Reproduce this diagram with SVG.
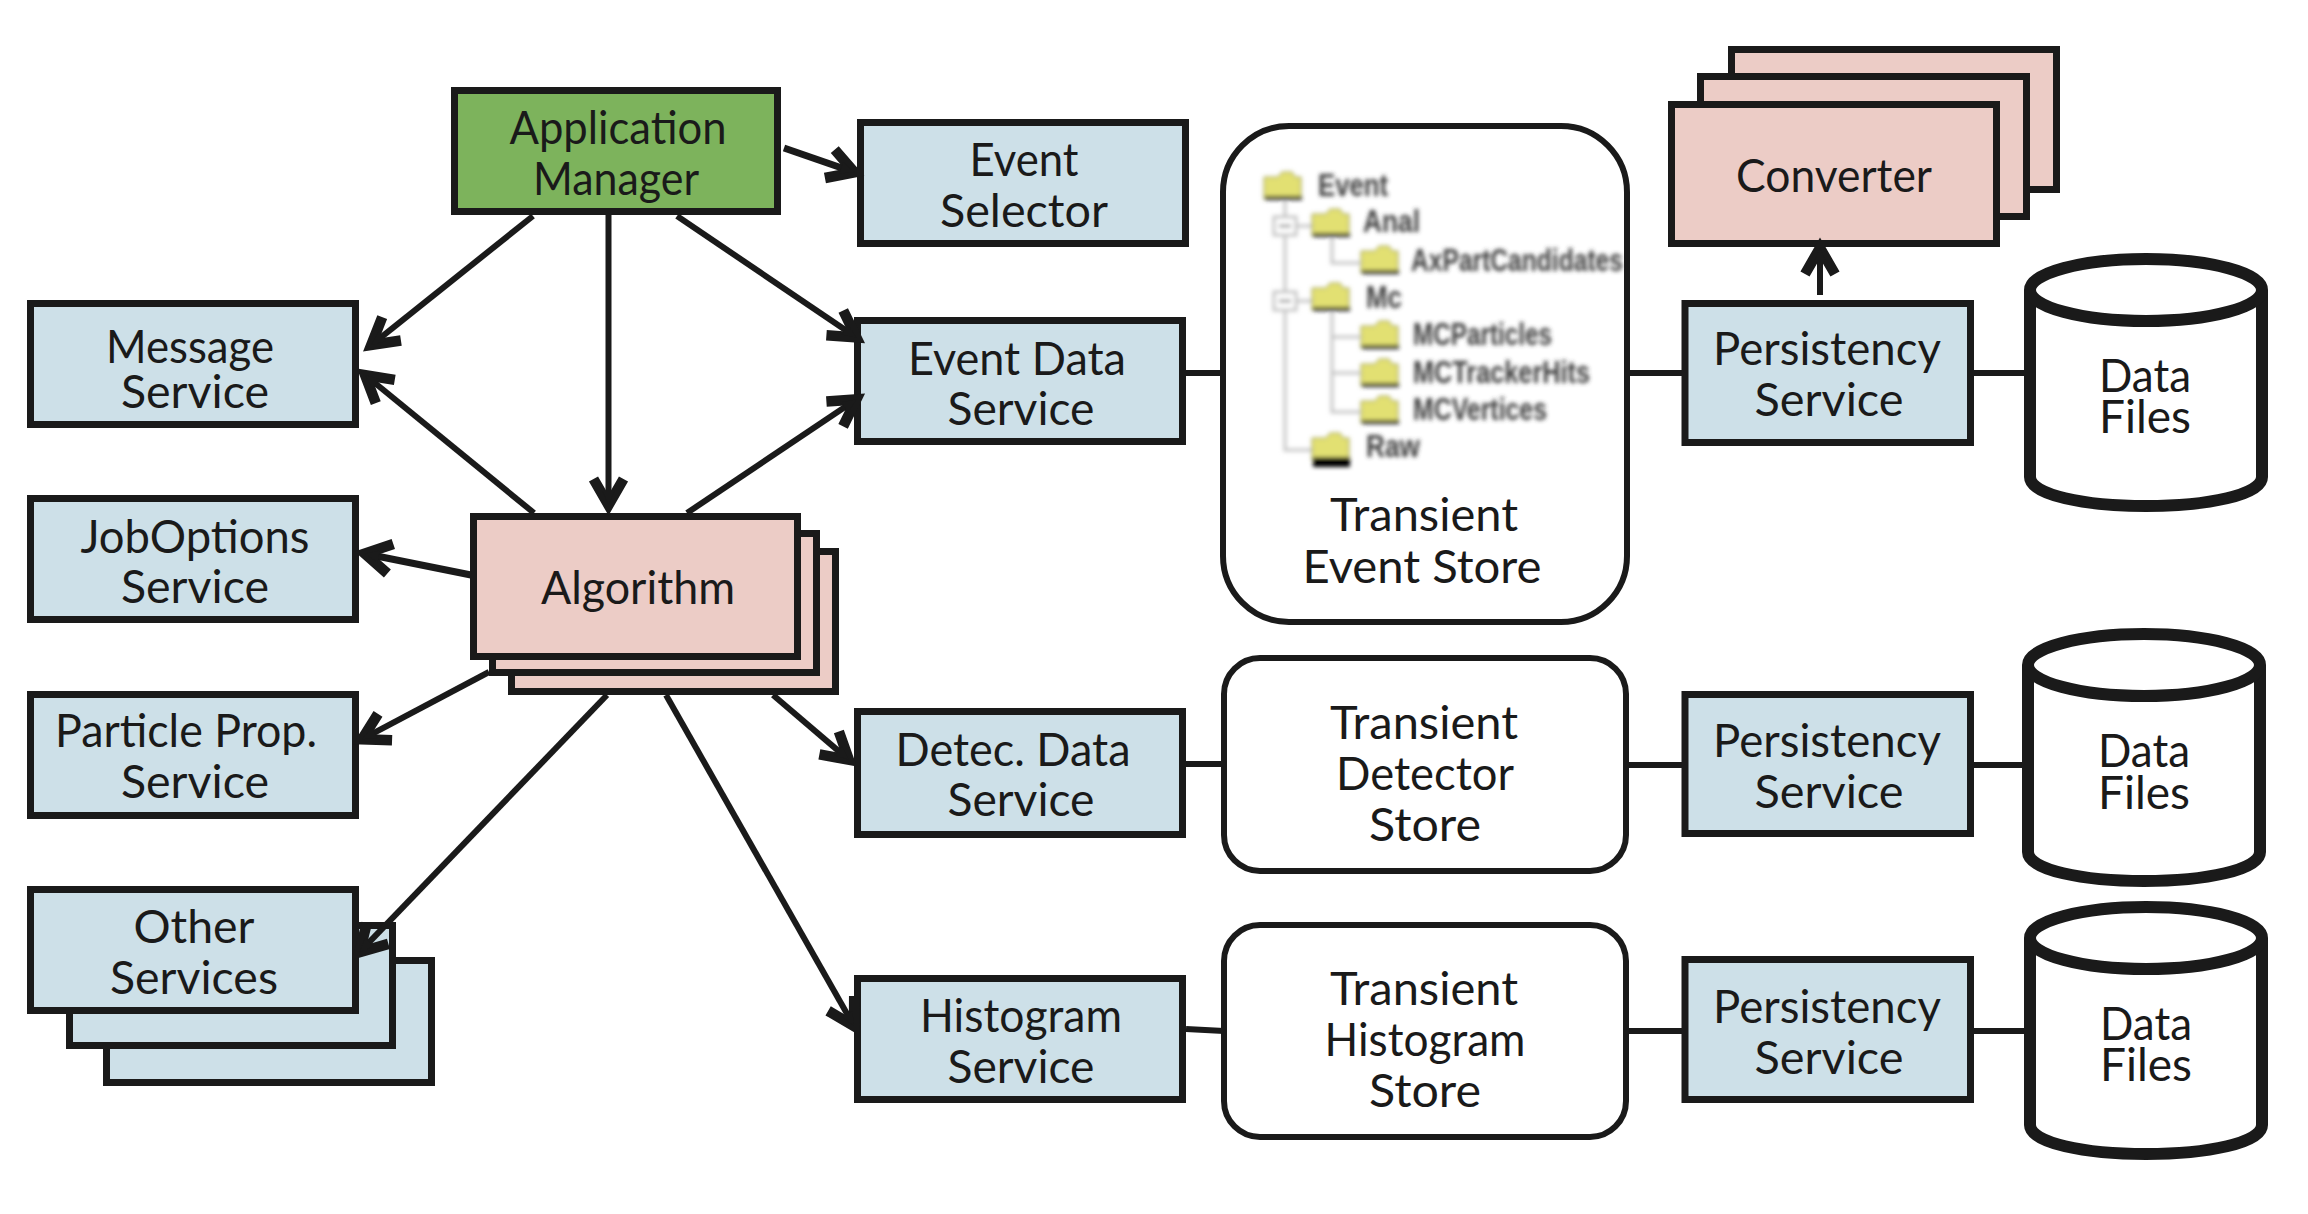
<svg xmlns="http://www.w3.org/2000/svg" width="2308" height="1214" viewBox="0 0 2308 1214">
<defs>
<style>
.b{stroke:#1a1a1a;stroke-width:7;fill:#cde0e8}
.p{stroke:#1a1a1a;stroke-width:7;fill:#ecccc6}
.g{stroke:#1a1a1a;stroke-width:7;fill:#7db35c}
.s{stroke:#1a1a1a;stroke-width:6;fill:#fff}
text.t{font-family:"Lato","Open Sans",sans-serif;font-size:46px;fill:#1a1a1a;text-anchor:middle;transform:translateY(2px)}
.c line{stroke:#1a1a1a;stroke-width:6;fill:none}
.a line{marker-end:url(#h)}
.tree{filter:url(#bl)}
.tree text{font-family:"Liberation Sans",sans-serif;font-size:31px;fill:#3c3c3c;font-weight:bold}
.tl{stroke:#c4c4c4;stroke-width:3;fill:none}
.fd{fill:#e2e072;stroke:#8a8a50;stroke-width:1}
.fb{fill:#222}
</style>
<filter id="bl" x="-5%" y="-5%" width="110%" height="110%"><feGaussianBlur stdDeviation="2.2"/></filter>
<marker id="h" markerUnits="userSpaceOnUse" viewBox="-40 -30 60 60" markerWidth="60" markerHeight="60" refX="2" refY="0" orient="auto" overflow="visible">
<path d="M-26,-15 L0,0 L-26,15" fill="none" stroke="#1a1a1a" stroke-width="10.5" stroke-miterlimit="6"/>
<path d="M-14,-6 L0,0 L-14,6Z" fill="#1a1a1a"/>
</marker>
<g id="cyl">
<path d="M6,37 V224 C6,242 61,253 122,253 C183,253 238,242 238,224 V37" fill="#fff" stroke="#1a1a1a" stroke-width="12"/>
<ellipse cx="122" cy="37" rx="116" ry="31" fill="#fff" stroke="#1a1a1a" stroke-width="12"/>
</g>
<g id="folder">
<path class="fd" d="M0,6 h14 l4,-5 h10 l3,5 h6 v22 h-37z"/>
<rect class="fb" x="1" y="25" width="37" height="4"/>
</g>
</defs>
<rect width="2308" height="1214" fill="#fff"/>

<g id="event-selector"><rect class="b" x="860.500" y="122.500" width="325" height="121"/>
<text class="t" x="1024" y="174" textLength="109" lengthAdjust="spacingAndGlyphs">Event</text>
<text class="t" x="1024" y="225" textLength="168" lengthAdjust="spacingAndGlyphs">Selector</text></g>

<g id="application-manager"><rect class="g" x="454.500" y="90.500" width="323" height="121"/>
<text class="t" x="618" y="142" textLength="217" lengthAdjust="spacingAndGlyphs">Application</text>
<text class="t" x="616" y="193" textLength="166" lengthAdjust="spacingAndGlyphs">Manager</text></g>

<g id="message-service"><rect class="b" x="30.500" y="303.500" width="325" height="121"/>
<text class="t" x="190" y="361" textLength="168" lengthAdjust="spacingAndGlyphs">Message</text>
<text class="t" x="195" y="406" textLength="148" lengthAdjust="spacingAndGlyphs">Service</text></g>

<g id="joboptions-service"><rect class="b" x="30.500" y="498.500" width="325" height="121"/>
<text class="t" x="195" y="551" textLength="229" lengthAdjust="spacingAndGlyphs">JobOptions</text>
<text class="t" x="195" y="601" textLength="148" lengthAdjust="spacingAndGlyphs">Service</text></g>

<g id="particle-prop-service"><rect class="b" x="30.500" y="694.500" width="325" height="121"/>
<text class="t" x="186" y="745" textLength="262" lengthAdjust="spacingAndGlyphs">Particle Prop.</text>
<text class="t" x="195" y="796" textLength="148" lengthAdjust="spacingAndGlyphs">Service</text></g>

<g id="other-services">
<rect class="b" x="106.500" y="960.500" width="325" height="122"/>
<rect class="b" x="69.500" y="925.500" width="323" height="120"/>
<rect class="b" x="30.500" y="889.500" width="325" height="121"/>
<text class="t" x="194" y="941" textLength="121" lengthAdjust="spacingAndGlyphs">Other</text>
<text class="t" x="194" y="992" textLength="168" lengthAdjust="spacingAndGlyphs">Services</text></g>

<g id="algorithm">
<rect class="p" x="511.500" y="551.500" width="324" height="140"/>
<rect class="p" x="492.500" y="533.500" width="324" height="139"/>
<rect class="p" x="473.500" y="516.500" width="324" height="140"/>
<text class="t" x="638" y="602" textLength="194" lengthAdjust="spacingAndGlyphs">Algorithm</text></g>

<g id="event-data-service"><rect class="b" x="857.500" y="320.500" width="325" height="121"/>
<text class="t" x="1017" y="373" textLength="218" lengthAdjust="spacingAndGlyphs">Event Data</text>
<text class="t" x="1021" y="423" textLength="147" lengthAdjust="spacingAndGlyphs">Service</text></g>

<g id="detec-data-service"><rect class="b" x="857.500" y="711.500" width="325" height="123"/>
<text class="t" x="1013" y="764" textLength="235" lengthAdjust="spacingAndGlyphs">Detec. Data</text>
<text class="t" x="1021" y="814" textLength="147" lengthAdjust="spacingAndGlyphs">Service</text></g>

<g id="histogram-service"><rect class="b" x="857.500" y="978.500" width="325" height="121"/>
<text class="t" x="1021" y="1030" textLength="202" lengthAdjust="spacingAndGlyphs">Histogram</text>
<text class="t" x="1021" y="1081" textLength="147" lengthAdjust="spacingAndGlyphs">Service</text></g>

<g id="transient-event-store"><rect class="s" x="1223" y="126" width="404" height="496" rx="66" ry="66"/>
<g class="tree">
<path class="tl" d="M1285,200V450H1313M1297,226H1312M1297,301H1312M1332,237V263H1360M1332,310V412H1360M1332,337H1360M1332,373H1360"/>
<rect x="1274" y="217" width="22" height="18" fill="#fff" stroke="#c4c4c4" stroke-width="3"/>
<rect x="1274" y="292" width="22" height="18" fill="#fff" stroke="#c4c4c4" stroke-width="3"/>
<path d="M1279,226h12M1279,301h12" stroke="#999" stroke-width="3"/>
<use href="#folder" x="1264" y="171"/>
<use href="#folder" x="1312" y="208"/>
<use href="#folder" x="1361" y="245"/>
<use href="#folder" x="1312" y="282"/>
<use href="#folder" x="1361" y="320"/>
<use href="#folder" x="1361" y="358"/>
<use href="#folder" x="1361" y="395"/>
<use href="#folder" x="1312" y="432"/>
<rect x="1313" y="459" width="37" height="8" fill="#000"/>
<text x="1318" y="196" textLength="70" lengthAdjust="spacingAndGlyphs">Event</text>
<text x="1363" y="232" textLength="57" lengthAdjust="spacingAndGlyphs">Anal</text>
<text x="1411" y="271" textLength="212" lengthAdjust="spacingAndGlyphs">AxPartCandidates</text>
<text x="1366" y="308" textLength="36" lengthAdjust="spacingAndGlyphs">Mc</text>
<text x="1413" y="345" textLength="139" lengthAdjust="spacingAndGlyphs">MCParticles</text>
<text x="1413" y="383" textLength="177" lengthAdjust="spacingAndGlyphs">MCTrackerHits</text>
<text x="1413" y="420" textLength="134" lengthAdjust="spacingAndGlyphs">MCVertices</text>
<text x="1366" y="457" textLength="54" lengthAdjust="spacingAndGlyphs">Raw</text>
</g>
<text class="t" x="1424" y="529" textLength="188" lengthAdjust="spacingAndGlyphs">Transient</text>
<text class="t" x="1422" y="581" textLength="239" lengthAdjust="spacingAndGlyphs">Event Store</text></g>

<g id="transient-detector-store"><rect class="s" x="1224" y="658" width="402" height="213" rx="36" ry="36"/>
<text class="t" x="1424" y="737" textLength="188" lengthAdjust="spacingAndGlyphs">Transient</text>
<text class="t" x="1425" y="788" textLength="178" lengthAdjust="spacingAndGlyphs">Detector</text>
<text class="t" x="1425" y="839" textLength="112" lengthAdjust="spacingAndGlyphs">Store</text></g>

<g id="transient-histogram-store"><rect class="s" x="1224" y="925" width="402" height="212" rx="36" ry="36"/>
<text class="t" x="1424" y="1003" textLength="188" lengthAdjust="spacingAndGlyphs">Transient</text>
<text class="t" x="1425" y="1054" textLength="201" lengthAdjust="spacingAndGlyphs">Histogram</text>
<text class="t" x="1425" y="1105" textLength="112" lengthAdjust="spacingAndGlyphs">Store</text></g>

<g id="converter">
<rect class="p" x="1731.500" y="49.500" width="325" height="140"/>
<rect class="p" x="1700.500" y="76.500" width="326" height="140"/>
<rect class="p" x="1671.500" y="104.500" width="325" height="139"/>
<text class="t" x="1834" y="190" textLength="196" lengthAdjust="spacingAndGlyphs">Converter</text></g>

<g id="persistency-service-1"><rect class="b" x="1685" y="303.500" width="285.500" height="139"/>
<text class="t" x="1827" y="363" textLength="228" lengthAdjust="spacingAndGlyphs">Persistency</text>
<text class="t" x="1829" y="414" textLength="149" lengthAdjust="spacingAndGlyphs">Service</text></g>

<g id="persistency-service-2"><rect class="b" x="1685" y="694.500" width="285.500" height="139"/>
<text class="t" x="1827" y="755" textLength="228" lengthAdjust="spacingAndGlyphs">Persistency</text>
<text class="t" x="1829" y="806" textLength="149" lengthAdjust="spacingAndGlyphs">Service</text></g>

<g id="persistency-service-3"><rect class="b" x="1685" y="959.500" width="285.500" height="140"/>
<text class="t" x="1827" y="1021" textLength="228" lengthAdjust="spacingAndGlyphs">Persistency</text>
<text class="t" x="1829" y="1072" textLength="149" lengthAdjust="spacingAndGlyphs">Service</text></g>

<g id="data-files-1"><use href="#cyl" x="2024" y="253"/>
<text class="t" x="2145" y="390" textLength="92" lengthAdjust="spacingAndGlyphs">Data</text>
<text class="t" x="2145" y="431" textLength="92" lengthAdjust="spacingAndGlyphs">Files</text></g>
<g id="data-files-2"><use href="#cyl" x="2022" y="628"/>
<text class="t" x="2144" y="765" textLength="92" lengthAdjust="spacingAndGlyphs">Data</text>
<text class="t" x="2144" y="807" textLength="92" lengthAdjust="spacingAndGlyphs">Files</text></g>
<g id="data-files-3"><use href="#cyl" x="2024" y="901"/>
<text class="t" x="2146" y="1038" textLength="92" lengthAdjust="spacingAndGlyphs">Data</text>
<text class="t" x="2146" y="1079" textLength="92" lengthAdjust="spacingAndGlyphs">Files</text></g>

<g id="connectors" class="c">
<g class="a">
<line x1="784" y1="148" x2="856.300" y2="173" style="stroke-width:7"/>
<line x1="533" y1="216" x2="369.700" y2="346.300"/>
<line x1="608.500" y1="215" x2="608.500" y2="507"/>
<line x1="677" y1="216" x2="858" y2="338.600"/>
<line x1="534" y1="513" x2="363.600" y2="373.800"/>
<line x1="687" y1="513" x2="858" y2="398.300"/>
<line x1="471" y1="575" x2="362.900" y2="553.200" style="stroke-width:7"/>
<line x1="489" y1="672" x2="360.300" y2="740.200"/>
<line x1="607" y1="695" x2="358.200" y2="953.700"/>
<line x1="773" y1="695" x2="850.400" y2="761.100"/>
<line x1="666" y1="695" x2="855" y2="1027.800"/>
<line x1="1820" y1="295" x2="1820" y2="246"/>
</g>
<line x1="1186" y1="373" x2="1223" y2="373"/>
<line x1="1627" y1="373" x2="1685" y2="373"/>
<line x1="1970" y1="373" x2="2026" y2="373"/>
<line x1="1186" y1="764" x2="1224" y2="764"/>
<line x1="1626" y1="765" x2="1685" y2="765"/>
<line x1="1970" y1="765" x2="2024" y2="765"/>
<line x1="1186" y1="1029" x2="1224" y2="1031"/>
<line x1="1626" y1="1031" x2="1685" y2="1031"/>
<line x1="1970" y1="1031" x2="2026" y2="1031"/>
</g>
</svg>
